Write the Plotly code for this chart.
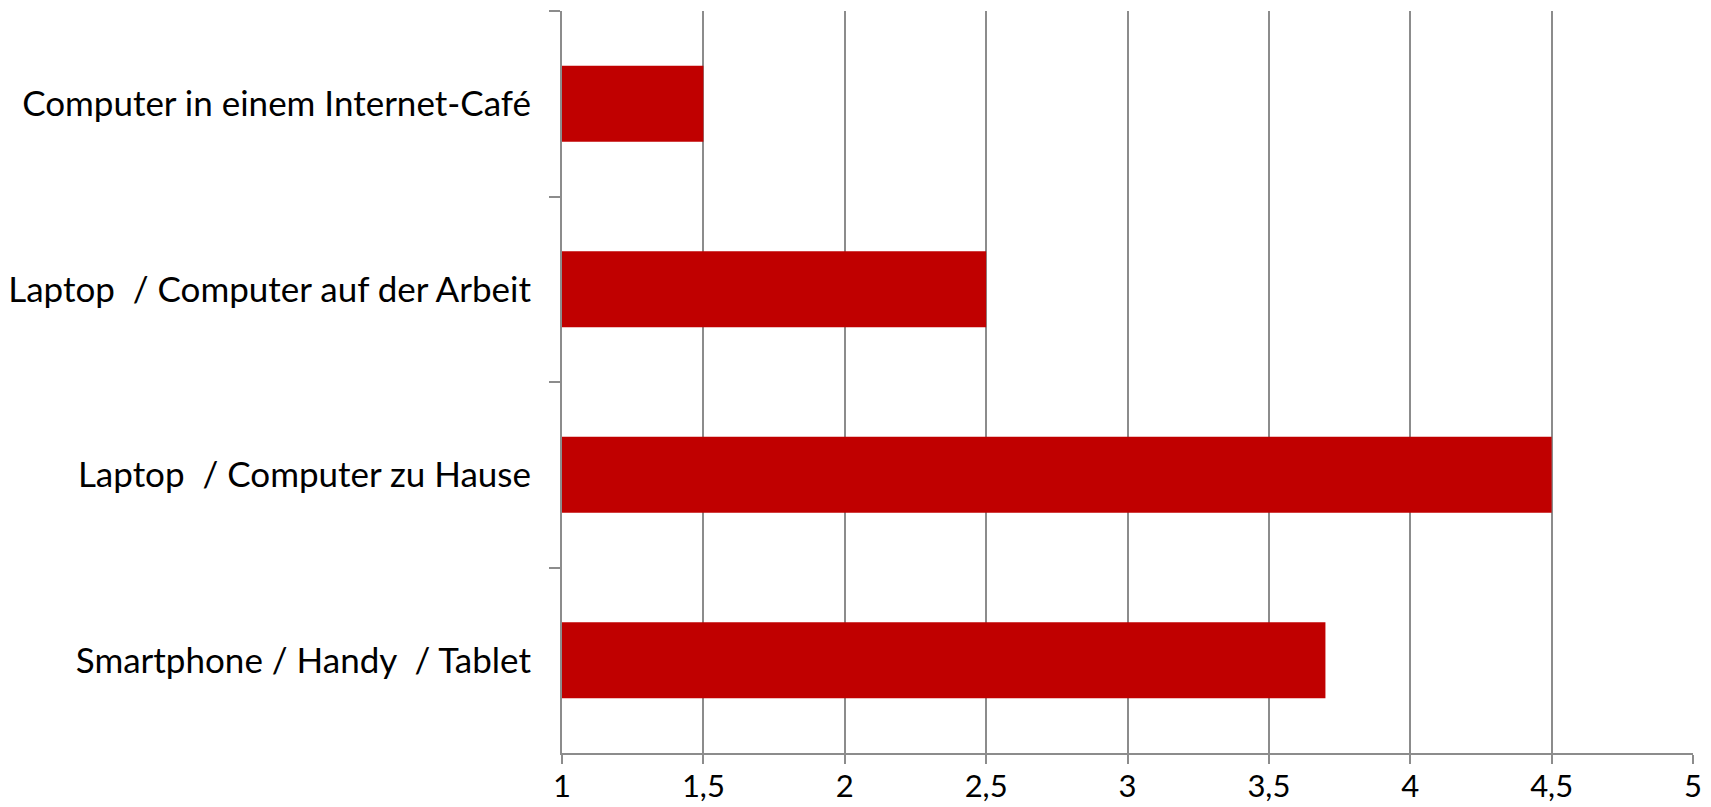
import plotly.graph_objects as go

categories = [
    "Computer in einem Internet-Café",
    "Laptop  / Computer auf der Arbeit",
    "Laptop  / Computer zu Hause",
    "Smartphone / Handy  / Tablet",
]
values = [1.5, 2.5, 4.5, 3.7]
x_ticks = [1, 1.5, 2, 2.5, 3, 3.5, 4, 4.5, 5]

GRID = "#8c8c8c"
FONT = "Lato"

fig = go.Figure(
    go.Bar(
        x=values,
        y=categories,
        orientation="h",
        marker=dict(color="#C00000", line=dict(width=0)),
        hoverinfo="x+y",
    )
)

fig.update_layout(
    width=1711,
    height=807,
    margin=dict(l=562, r=18, t=11, b=54),
    paper_bgcolor="white",
    plot_bgcolor="white",
    bargap=0.59,
    separators=",.",
    showlegend=False,
    font=dict(family=FONT, size=34, color="#000000"),
    xaxis=dict(
        range=[1, 5],
        tickvals=x_ticks,
        showgrid=True,
        gridcolor=GRID,
        gridwidth=1.5,
        showline=True,
        linecolor=GRID,
        linewidth=2,
        ticks="outside",
        ticklen=9,
        tickwidth=2,
        tickcolor=GRID,
        zeroline=False,
        automargin=False,
        ticklabelstandoff=-4,
        tickfont=dict(family=FONT, size=31, color="#000000"),
    ),
    yaxis=dict(
        autorange="reversed",
        showgrid=False,
        showline=True,
        linecolor=GRID,
        linewidth=2,
        ticks="outside",
        tickson="boundaries",
        ticklen=11,
        tickwidth=2,
        tickcolor=GRID,
        automargin=False,
        tickfont=dict(family=FONT, size=35, color="#000000"),
        ticklabelstandoff=22,
    ),
)

fig.write_html("out.html")
